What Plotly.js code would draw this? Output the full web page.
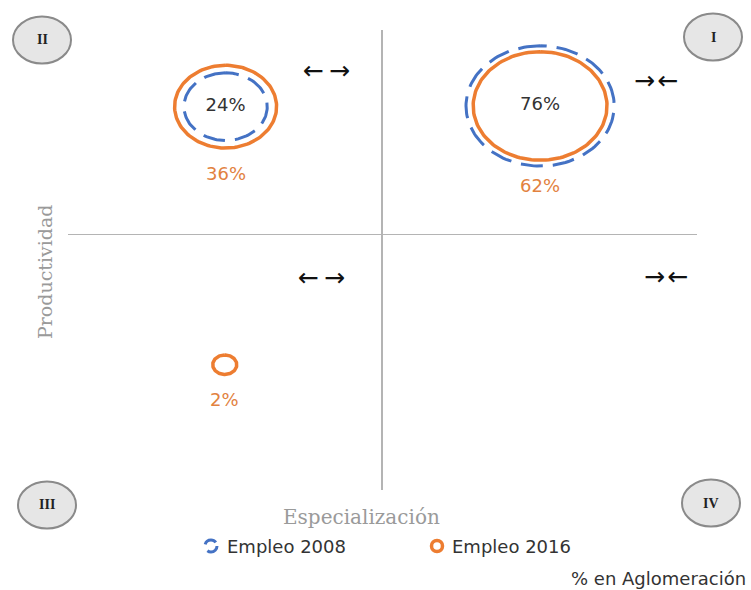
<!DOCTYPE html>
<html>
<head>
<meta charset="utf-8">
<script src="https://cdn.plot.ly/plotly-3.0.1.min.js"></script>
<style>
  html, body { margin: 0; padding: 0; background: #ffffff; }
  #chart { width: 751px; height: 590px; }
</style>
</head>
<body>
<div id="chart"></div>
<script>
// Quadrant position of each agglomeration group (specialization vs productivity)
const cuadrantes = ['II', 'I', 'III'];
const especializacion = [-18.4, 18.6, -18.5];
const productividad = [18.5, 18.6, -18.9];

// Share of employment in each group (%)
const empleo2008 = [24, 76, 0];
const empleo2016 = [36, 62, 2];

const seriesNames = ['Empleo 2008', 'Empleo 2016'];
const quadrantLabels = ['I', 'II', 'III', 'IV'];
const arrowLabels = ['\u2192\u200A\u2190', '\u2190\u2009\u2192', '\u2190\u2009\u2192', '\u2192\u200A\u2190'];
const xTitle = 'Especialización';
const yTitle = 'Productividad';
const noteText = '% en Aglomeración';

// ---- layout geometry (pixels) ----
const W = 751, H = 590;
const L = 68, R = 697, T = 30, B = 490;
const X0 = 382, Y0 = 234.3;          // where the two axes cross
const PX_X = 8.5, PX_Y = 6.9;        // pixels per data unit

const BLUE = '#4472C4';
const ORANGE = '#ED7D31';
const SANS = 'DejaVu Sans';
const SERIF = 'DejaVu Serif';

function paper(xp, yp) {
  return { x: (xp - L) / (R - L), y: (B - yp) / (B - T) };
}

// bubble outline: radius proportional to sqrt of the share, so area ~ share
function outline(values) {
  const xs = [], ys = [];
  const n = 144;
  values.forEach((v, i) => {
    if (!v) return;
    const r = Math.sqrt(v);
    for (let k = 0; k <= n; k++) {
      const t = (k / n) * 2 * Math.PI + Math.PI / 2;
      xs.push(especializacion[i] + r * Math.cos(t));
      ys.push(productividad[i] + r * Math.sin(t));
    }
    xs.push(null); ys.push(null);
  });
  return { x: xs, y: ys };
}

const o2008 = outline(empleo2008);
const o2016 = outline(empleo2016);

const traces = [
  {
    type: 'scatter', mode: 'lines', name: seriesNames[0],
    x: o2008.x, y: o2008.y,
    line: { color: BLUE, width: 3, dash: '22px,10px' },
    hoverinfo: 'skip', showlegend: false
  },
  {
    type: 'scatter', mode: 'lines', name: seriesNames[1],
    x: o2016.x, y: o2016.y,
    line: { color: ORANGE, width: 3.5 },
    hoverinfo: 'skip', showlegend: false
  },
  {
    // 2008 share written inside each bubble
    type: 'scatter', mode: 'text',
    x: especializacion.filter((_, i) => empleo2008[i] > 0),
    y: productividad.filter((_, i) => empleo2008[i] > 0),
    text: empleo2008.filter(v => v > 0).map(v => v + '%'),
    textposition: 'middle center',
    textfont: { family: SANS, size: 18, color: '#333333' },
    hoverinfo: 'skip', showlegend: false
  }
];

const annotations = [];

// 2016 share written under each orange bubble
empleo2016.forEach((v, i) => {
  if (!v) return;
  annotations.push({
    xref: 'x', yref: 'y',
    x: especializacion[i], y: productividad[i] - Math.sqrt(v),
    yshift: -25, showarrow: false,
    text: v + '%',
    font: { family: SANS, size: 18, color: '#E2823F' }
  });
});

// quadrant badges
const badgeCenters = [[713, 37], [42, 40], [47, 505], [711, 503]];
const shapes = [];
badgeCenters.forEach((c, i) => {
  const a = paper(c[0] - 29, c[1] + 23.5);
  const b = paper(c[0] + 29, c[1] - 23.5);
  shapes.push({
    type: 'circle', xref: 'paper', yref: 'paper',
    x0: a.x, y0: a.y, x1: b.x, y1: b.y,
    fillcolor: '#e6e6e6', line: { color: '#8a8a8a', width: 2 }
  });
  const p = paper(c[0], c[1]);
  annotations.push({
    xref: 'paper', yref: 'paper', x: p.x, y: p.y,
    xanchor: 'center', yanchor: 'middle', showarrow: false,
    text: '<b>' + quadrantLabels[i] + '</b>',
    font: { family: 'Liberation Serif', size: 14, color: '#222222' }
  });
});

// movement arrows per quadrant (I, II, III, IV)
const arrowCenters = [[656, 80], [326, 70], [321, 277], [666, 276]];
arrowCenters.forEach((c, i) => {
  const p = paper(c[0], c[1]);
  annotations.push({
    xref: 'paper', yref: 'paper', x: p.x, y: p.y,
    xanchor: 'center', yanchor: 'middle', showarrow: false,
    text: arrowLabels[i],
    font: { family: SANS, size: 25, color: '#111111' }
  });
});

// axis titles
const xt = paper(361, 517);
annotations.push({
  xref: 'paper', yref: 'paper', x: xt.x, y: xt.y,
  xanchor: 'center', yanchor: 'middle', showarrow: false,
  text: xTitle, font: { family: SERIF, size: 20, color: '#9a9a9a' }
});
const yt = paper(45, 272);
annotations.push({
  xref: 'paper', yref: 'paper', x: yt.x, y: yt.y,
  xanchor: 'center', yanchor: 'middle', showarrow: false, textangle: -90,
  text: yTitle, font: { family: SERIF, size: 19, color: '#9a9a9a' }
});

// legend (icon + label)
const legendItems = [
  { icon: [211, 546], text: [225, 546], dash: '13px,7px', color: BLUE, r: 6, w: 3 },
  { icon: [437, 546], text: [450, 546], dash: 'solid', color: ORANGE, r: 5.5, w: 3.5 }
];
legendItems.forEach((it, i) => {
  const a = paper(it.icon[0] - it.r, it.icon[1] + it.r);
  const b = paper(it.icon[0] + it.r, it.icon[1] - it.r);
  shapes.push({
    type: 'circle', xref: 'paper', yref: 'paper',
    x0: a.x, y0: a.y, x1: b.x, y1: b.y,
    line: { color: it.color, width: it.w, dash: it.dash }
  });
  const p = paper(it.text[0], it.text[1]);
  annotations.push({
    xref: 'paper', yref: 'paper', x: p.x, y: p.y,
    xanchor: 'left', yanchor: 'middle', showarrow: false,
    text: seriesNames[i], font: { family: SANS, size: 18, color: '#333333' }
  });
});

// note in the bottom-right corner
const nt = paper(748, 578);
annotations.push({
  xref: 'paper', yref: 'paper', x: nt.x, y: nt.y,
  xanchor: 'right', yanchor: 'middle', showarrow: false,
  text: noteText, font: { family: SANS, size: 18, color: '#333333' }
});

const axisCommon = {
  showgrid: false, showticklabels: false, ticks: '', showline: false,
  zeroline: true, zerolinecolor: '#b4b4b4', zerolinewidth: 1.5, fixedrange: true
};

const layout = {
  width: W, height: H,
  margin: { l: L, r: W - R, t: T, b: H - B, pad: 0 },
  paper_bgcolor: '#ffffff', plot_bgcolor: '#ffffff',
  showlegend: false,
  xaxis: Object.assign({}, axisCommon, { range: [(L - X0) / PX_X, (R - X0) / PX_X] }),
  yaxis: Object.assign({}, axisCommon, { range: [(Y0 - B) / PX_Y, (Y0 - T) / PX_Y] }),
  shapes: shapes,
  annotations: annotations
};

Plotly.newPlot('chart', traces, layout, { displayModeBar: false, staticPlot: true });
</script>
</body>
</html>
